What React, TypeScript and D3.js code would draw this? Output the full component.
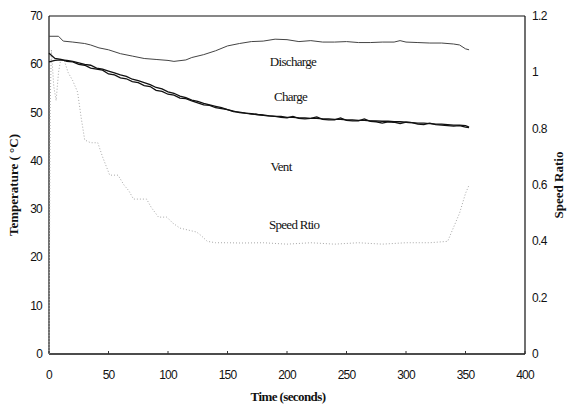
import React, { useRef, useEffect } from 'react';
import * as d3 from 'd3';

// Charge / Vent sampled every 5 s
const tempTimes = d3.range(0, 355, 5).concat([353]);
const chargeTemps = [
  62.3, 61.2, 61.0, 60.6, 60.5, 60.0, 59.8, 59.2, 59.0, 58.8, 58.0, 57.8, 57.2, 57.0, 56.4, 56.2,
  55.6, 55.4, 54.6, 54.4, 53.8, 53.6, 53.0, 52.9, 52.4, 52.0, 51.6, 51.5, 51.0, 50.8, 50.6, 50.2,
  50.1, 49.9, 49.8, 49.6, 49.5, 49.3, 49.2, 49.2, 49.0, 49.0, 48.9, 48.9, 48.8, 48.8, 48.7, 48.7,
  48.6, 48.6, 48.5, 48.5, 48.4, 48.4, 48.3, 48.3, 48.2, 48.2, 48.1, 48.1, 48.0, 47.9, 47.8, 47.8,
  47.7, 47.6, 47.6, 47.5, 47.4, 47.4, 47.3, 47.0
];
const ventTemps = [
  60.5, 60.8, 60.9, 60.8, 60.6, 60.3, 60.0, 59.8, 59.2, 59.0, 58.6, 58.2, 57.8, 57.5, 56.9, 56.6,
  56.2, 55.8, 55.2, 54.9, 54.3, 54.0, 53.4, 53.1, 52.6, 52.3, 51.9, 51.6, 51.3, 51.0, 50.6, 50.3,
  50.0, 49.9, 49.7, 49.6, 49.4, 49.3, 49.2, 49.0, 48.9, 49.2, 48.8, 48.7, 48.8, 49.1, 48.6, 48.5,
  48.5, 48.9, 48.4, 48.3, 48.3, 48.7, 48.2, 48.1, 47.8, 48.1, 48.0, 47.7, 48.0, 47.9, 47.6, 47.5,
  47.8, 47.5, 47.4, 47.3, 47.2, 47.3, 47.0, 46.9
];

const dischargeTimes = [0, 8, 12, 20, 30, 35, 42, 50, 60, 70, 80, 90, 100, 105, 115, 120, 130, 140, 150, 160, 170,
  180, 190, 200, 210, 220, 230, 240, 250, 260, 270, 280, 290, 295, 300, 310, 320, 330, 340, 345, 350, 353];
const dischargeTemps = [65.8, 65.8, 64.8, 64.6, 64.3, 64.0, 63.4, 63.0, 62.2, 61.7, 61.2, 61.0, 60.8, 60.6, 60.9,
  61.4, 62.0, 62.8, 63.8, 64.3, 64.7, 64.8, 65.2, 65.1, 64.7, 64.9, 64.6, 64.6, 64.7, 64.5, 64.5, 64.6, 64.6,
  64.9, 64.6, 64.5, 64.4, 64.4, 64.2, 64.0, 63.2, 63.0];

const speedTimes = [0, 1, 2, 4, 6, 8, 10, 13, 16, 20, 24, 27, 30, 35, 41, 45, 51, 58, 63, 67, 71, 82, 86, 92, 99,
  104, 110, 117, 124, 128, 133, 140, 150, 161, 180, 200, 220, 240, 260, 280, 300, 320, 335, 340, 345, 350, 353];
const speedRatios = [0, 0.88, 1.08, 0.95, 0.9, 1.0, 1.05, 1.04, 1.0, 0.97, 0.93, 0.84, 0.76, 0.75, 0.75, 0.7,
  0.635, 0.635, 0.6, 0.58, 0.55, 0.55, 0.52, 0.486, 0.486, 0.465, 0.447, 0.44, 0.433, 0.42, 0.4, 0.395, 0.395,
  0.394, 0.395, 0.39, 0.395, 0.39, 0.395, 0.39, 0.395, 0.395, 0.4, 0.45, 0.5, 0.57, 0.6];

const xTicks = [0, 50, 100, 150, 200, 250, 300, 350, 400];
const leftTicks = [0, 10, 20, 30, 40, 50, 60, 70];
const rightTicks = [0, 0.2, 0.4, 0.6, 0.8, 1, 1.2];

// label anchors (time, temperature of the baseline)
const seriesLabels = [
  { text: 'Discharge', t: 205, v: 59.6 },
  { text: 'Charge', t: 203, v: 52.4 },
  { text: 'Vent', t: 195, v: 37.9 },
  { text: 'Speed Rtio', t: 206, v: 25.9 }
];

const App: React.FC = () => {
  const svgRef = useRef<SVGSVGElement>(null);

  useEffect(() => {
    if (!svgRef.current) return;
    const svg = d3.select(svgRef.current);
    svg.selectAll('*').remove();

    const left = 49, right = 525, top = 16, bottom = 354;

    const x = d3.scaleLinear().domain([0, 400]).range([left, right]);
    const y = d3.scaleLinear().domain([0, 70]).range([bottom, top]);
    const y2 = d3.scaleLinear().domain([0, 1.2]).range([bottom, top]);

    const tickFont = '"Liberation Sans", Arial, sans-serif';
    const serif = '"Liberation Serif", "Times New Roman", serif';

    // frame
    svg.append('line').attr('x1', left).attr('x2', right).attr('y1', top).attr('y2', top)
      .attr('stroke', '#111').attr('stroke-width', 1.2);
    svg.append('line').attr('x1', right).attr('x2', right).attr('y1', top).attr('y2', bottom)
      .attr('stroke', '#111').attr('stroke-width', 1.2);
    svg.append('line').attr('x1', left).attr('x2', right).attr('y1', bottom).attr('y2', bottom)
      .attr('stroke', '#111').attr('stroke-width', 1.5);
    svg.append('line').attr('x1', left).attr('x2', left).attr('y1', top).attr('y2', bottom)
      .attr('stroke', '#111').attr('stroke-width', 1.2);

    // x ticks
    xTicks.forEach(t => {
      svg.append('line').attr('x1', x(t)).attr('x2', x(t)).attr('y1', bottom).attr('y2', bottom - 3)
        .attr('stroke', '#333');
      svg.append('text').attr('x', x(t)).attr('y', 379).attr('text-anchor', 'middle')
        .attr('font-family', tickFont).attr('font-size', 12).attr('letter-spacing', -0.8)
        .attr('fill', '#111').text(t);
    });
    leftTicks.forEach(v => {
      svg.append('text').attr('x', 42).attr('y', y(v) + 4).attr('text-anchor', 'end')
        .attr('font-family', tickFont).attr('font-size', 12).attr('letter-spacing', -0.8)
        .attr('fill', '#111').text(v);
    });
    rightTicks.forEach(v => {
      svg.append('text').attr('x', 532).attr('y', y2(v) + 4).attr('text-anchor', 'start')
        .attr('font-family', tickFont).attr('font-size', 12).attr('letter-spacing', -0.6)
        .attr('fill', '#111').text(v);
    });

    // axis titles
    svg.append('text').attr('x', 288).attr('y', 401).attr('text-anchor', 'middle')
      .attr('font-family', serif).attr('font-weight', 'bold').attr('font-size', 13)
      .attr('letter-spacing', -0.6).attr('fill', '#111').text('Time (seconds)');
    svg.append('text').attr('transform', 'translate(18,185) rotate(-90)').attr('text-anchor', 'middle')
      .attr('font-family', serif).attr('font-weight', 'bold').attr('font-size', 13)
      .attr('fill', '#111').text('Temperature ( °C)');
    svg.append('text').attr('transform', 'translate(563,185) rotate(-90)').attr('text-anchor', 'middle')
      .attr('font-family', serif).attr('font-weight', 'bold').attr('font-size', 13)
      .attr('fill', '#111').text('Speed Ratio');

    // speed ratio (right axis)
    const speedLine = d3.line<number>().x((_, i) => x(speedTimes[i])).y(d => y2(d));
    svg.append('path').attr('d', speedLine(speedRatios)!).attr('fill', 'none')
      .attr('stroke', '#a8a8a8').attr('stroke-width', 1).attr('stroke-dasharray', '1,2');

    // discharge
    const dLine = d3.line<number>().x((_, i) => x(dischargeTimes[i])).y(d => y(d));
    svg.append('path').attr('d', dLine(dischargeTemps)!).attr('fill', 'none')
      .attr('stroke', '#444').attr('stroke-width', 1);

    // charge and vent
    const tLine = d3.line<number>().x((_, i) => x(tempTimes[i])).y(d => y(d));
    [chargeTemps, ventTemps].forEach(s => {
      svg.append('path').attr('d', tLine(s)!).attr('fill', 'none')
        .attr('stroke', '#111').attr('stroke-width', 1.3);
    });

    // series labels
    seriesLabels.forEach(l => {
      svg.append('text').attr('x', x(l.t)).attr('y', y(l.v)).attr('text-anchor', 'middle')
        .attr('font-family', serif).attr('font-size', 13).attr('letter-spacing', -0.7)
        .attr('fill', '#111').text(l.text);
    });
  }, []);

  return (
    <svg ref={svgRef} width={571} height={412}
      style={{ position: 'absolute', left: 0, top: 0, background: '#fff' }} />
  );
};

export default App;
